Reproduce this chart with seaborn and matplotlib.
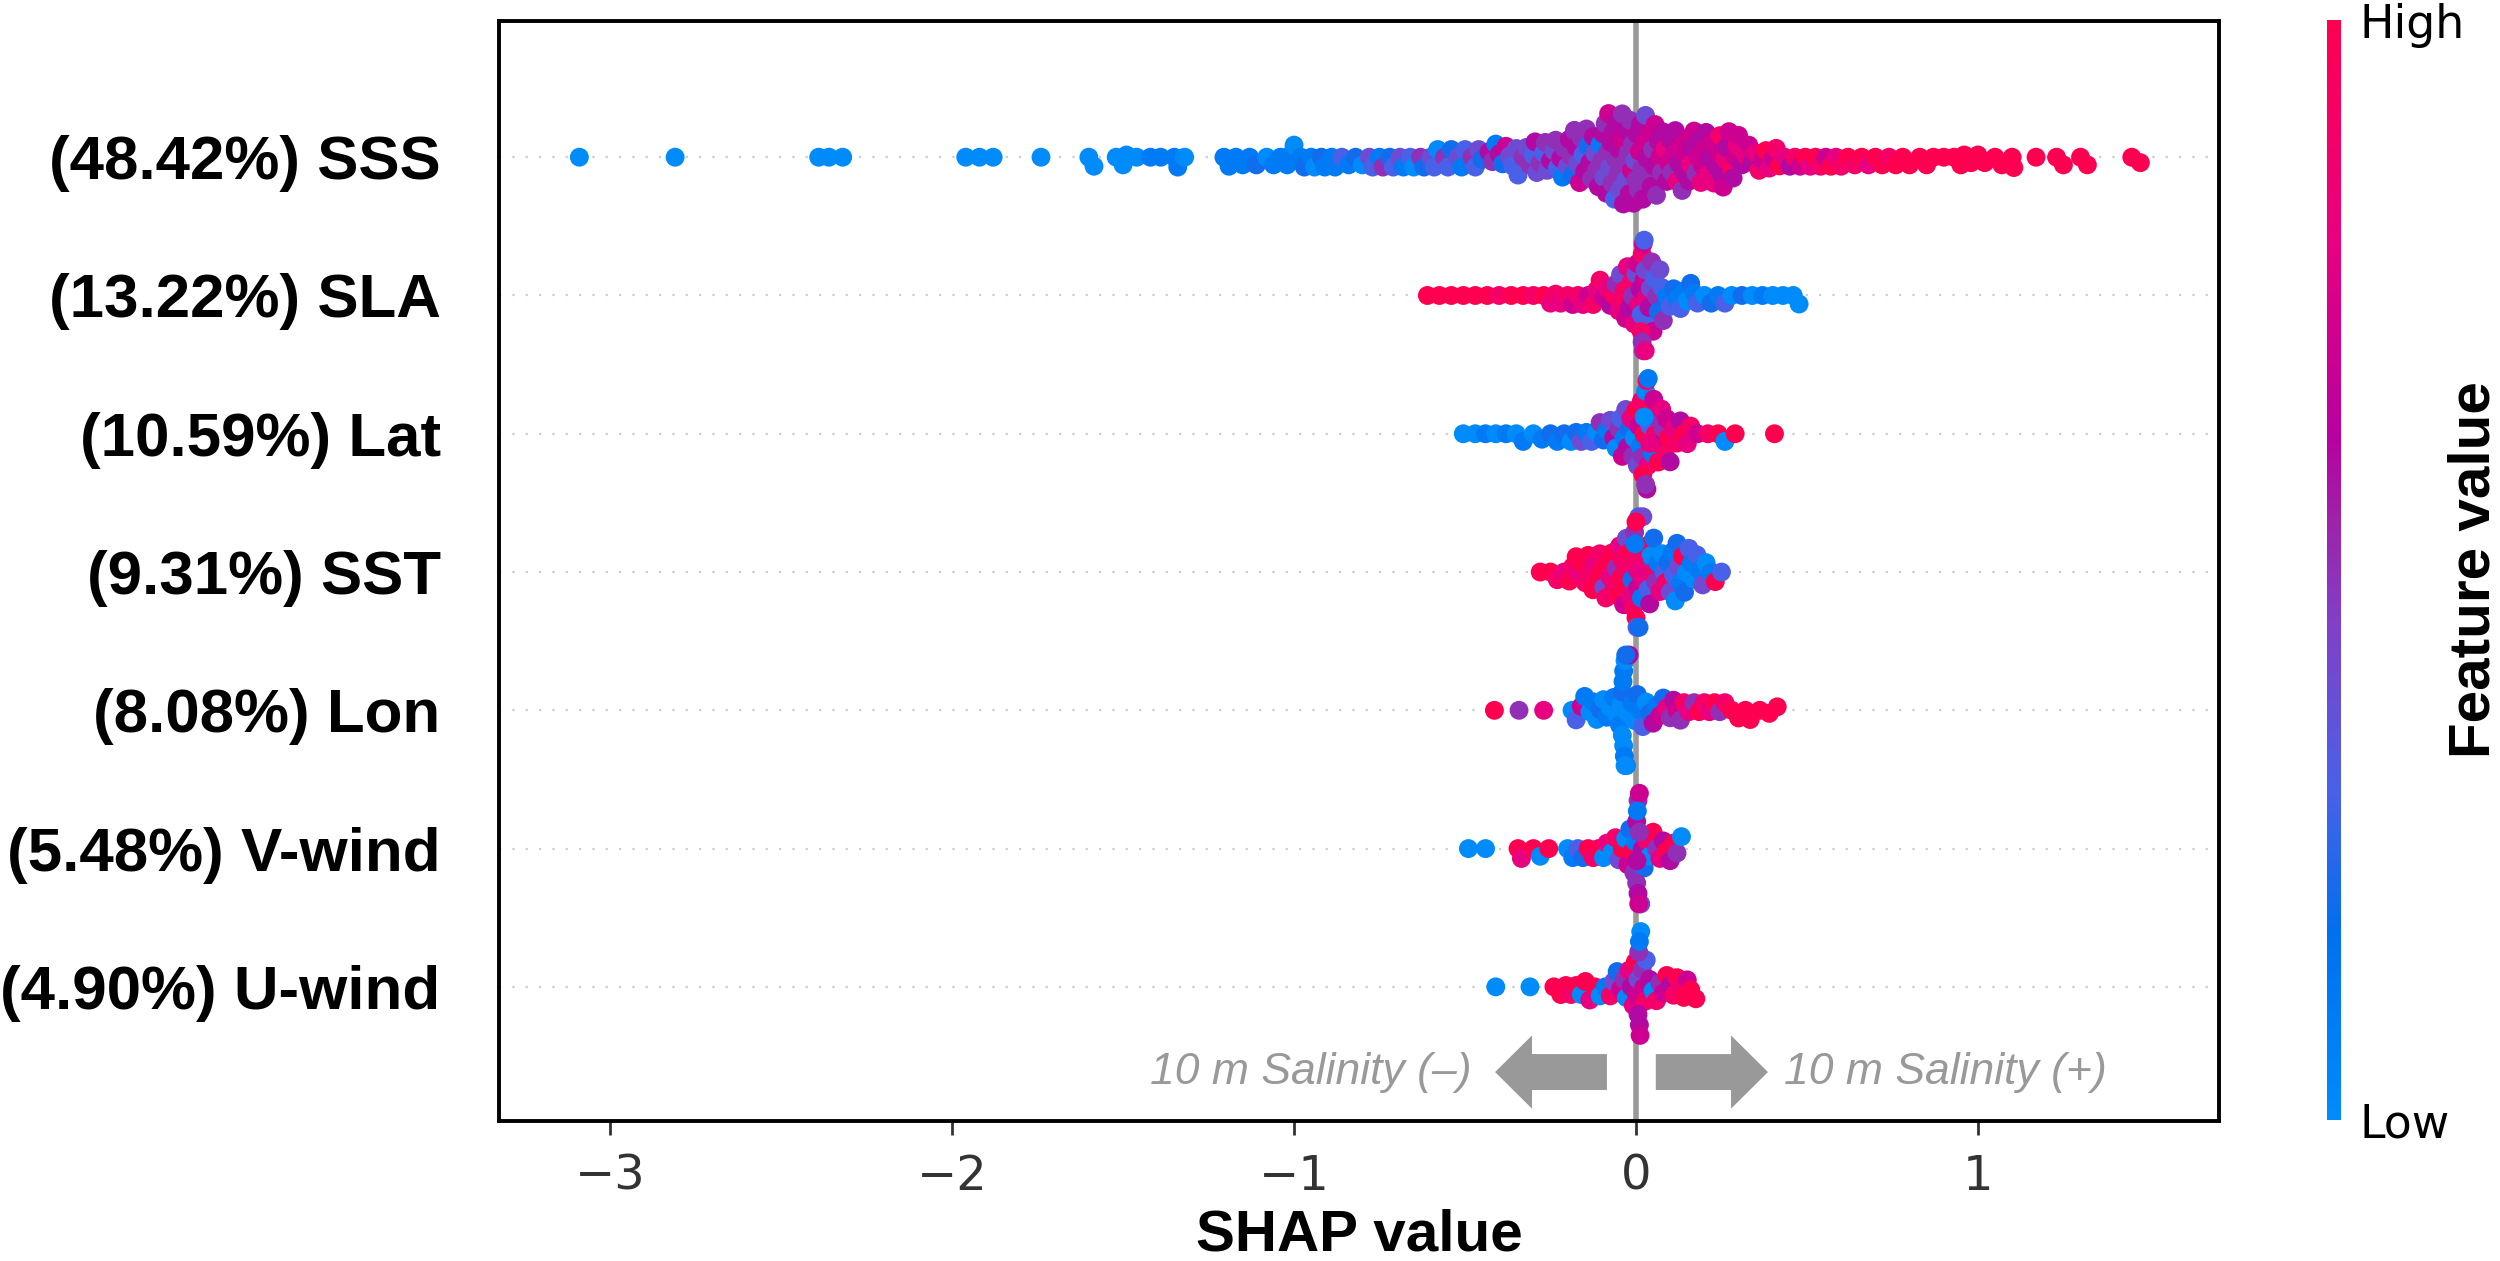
#-------------------------------------------
# SHAP summary beeswarm for the 10 m salinity
# model.
#-------------------------------------------

import pandas as pd
import matplotlib
matplotlib.use("Agg")
import matplotlib.pyplot as plt
import seaborn as sns

from matplotlib.cm import ScalarMappable
from matplotlib.colors import LinearSegmentedColormap, Normalize

#------------------------------DATA--------------------------------------------

features = ["(48.42%) SSS", "(13.22%) SLA", "(10.59%) Lat", "(9.31%) SST",
            "(8.08%) Lon", "(5.48%) V-wind", "(4.90%) U-wind"]

# feature value is on a 0 (low) to 10 (high) scale

sss_shap = [-3.09, -2.81, -2.39, -2.36, -2.32, -1.96, -1.92, -1.88, -1.74, -1.60,
            -1.585, -1.52, -1.50, -1.49, -1.46, -1.42, -1.39, -1.35, -1.34, -1.32,
            -1.205, -1.19, -1.17, -1.15, -1.13, -1.11, -1.08, -1.06, -1.04, -1.02,
            -1.01, -1.00, -0.98, -0.97, -0.95, -0.94, -0.92, -0.91, -0.89, -0.88,
            -0.86, -0.84, -0.82, -0.80, -0.78, -0.77, -0.75, -0.74, -0.72, -0.71,
            -0.69, -0.68, -0.66, -0.65, -0.63, -0.62, -0.60, -0.59, -0.58, -0.56,
            -0.55, -0.54, -0.52, -0.51, -0.50, -0.48, -0.47, -0.46, -0.45, -0.43,
            -0.42, -0.41, -0.40, -0.39, -0.38, -0.37, -0.36, -0.35, -0.345, -0.33,
            -0.32, -0.31, -0.30, -0.295, -0.29, -0.28, -0.27, -0.265, -0.26, -0.25,
            -0.24, -0.235, -0.23, -0.22, -0.215, -0.21, -0.20, -0.195, -0.19, -0.185,
            -0.18, -0.175, -0.17, -0.165, -0.16, -0.155, -0.15, -0.145, -0.14, -0.135,
            -0.13, -0.125, -0.12, -0.115, -0.11, -0.105, -0.10, -0.097, -0.094, -0.09,
            -0.087, -0.083, -0.08, -0.077, -0.073, -0.07, -0.067, -0.063, -0.06, -0.057,
            -0.053, -0.05, -0.047, -0.043, -0.04, -0.037, -0.033, -0.03, -0.027, -0.023,
            -0.02, -0.017, -0.013, -0.01, -0.007, -0.003, 0.0, 0.003, 0.007, 0.01,
            0.013, 0.017, 0.02, 0.024, 0.028, 0.032, 0.036, 0.04, 0.044, 0.048,
            0.052, 0.056, 0.06, 0.065, 0.07, 0.075, 0.08, 0.085, 0.09, 0.095,
            0.10, 0.105, 0.11, 0.115, 0.12, 0.125, 0.13, 0.135, 0.14, 0.145,
            0.15, 0.155, 0.16, 0.165, 0.17, 0.175, 0.18, 0.185, 0.19, 0.195,
            0.20, 0.205, 0.21, 0.216, 0.222, 0.228, 0.234, 0.24, 0.245, 0.25,
            0.255, 0.26, 0.266, 0.272, 0.278, 0.284, 0.29, 0.295, 0.30, 0.31,
            0.32, 0.33, 0.34, 0.35, 0.36, 0.37, 0.38, 0.39, 0.40, 0.41,
            0.42, 0.435, 0.45, 0.465, 0.48, 0.495, 0.51, 0.525, 0.54, 0.555,
            0.57, 0.585, 0.60, 0.62, 0.64, 0.66, 0.68, 0.70, 0.72, 0.74,
            0.76, 0.78, 0.80, 0.83, 0.85, 0.87, 0.90, 0.93, 0.95, 0.96,
            0.98, 1.00, 1.02, 1.05, 1.07, 1.10, 1.105, 1.17, 1.23, 1.25,
            1.30, 1.32, 1.45, 1.475]
sss_value = [0, 0, 0, 0, 0, 0, 0, 0, 0, 0,
             0, 0, 0, 0, 0, 1, 1, 1, 1, 0,
             1, 1, 1, 1, 1, 2, 0, 1, 1, 1,
             1, 0, 1, 2, 1, 0, 2, 1, 1, 1,
             3, 1, 2, 0, 4, 3, 1, 5, 2, 3,
             4, 1, 3, 0, 5, 2, 4, 3, 0, 5,
             3, 2, 4, 1, 3, 5, 3, 4, 2, 6,
             5, 1, 6, 2, 7, 4, 3, 4, 3, 5,
             4, 5, 3, 6, 4, 5, 3, 5, 4, 6,
             4, 5, 3, 6, 1, 5, 4, 6, 5, 2,
             5, 6, 4, 7, 5, 3, 6, 5, 2, 6,
             5, 6, 4, 5, 6, 1, 5, 6, 4, 5,
             6, 5, 7, 4, 6, 5, 6, 3, 5, 6,
             5, 6, 4, 7, 5, 6, 5, 4, 6, 5,
             6, 5, 7, 5, 6, 4, 5, 6, 5, 7,
             6, 5, 6, 7, 4, 6, 5, 7, 6, 5,
             6, 7, 5, 6, 7, 5, 6, 8, 6, 7,
             6, 5, 7, 6, 8, 6, 7, 5, 6, 7,
             7, 6, 8, 6, 7, 5, 7, 6, 8, 7,
             7, 6, 8, 6, 7, 8, 6, 7, 9, 6,
             7, 8, 6, 7, 9, 6, 7, 8, 7, 6,
             8, 7, 6, 8, 9, 7, 10, 8, 7, 9,
             10, 8, 6, 9, 7, 10, 8, 10, 9, 7,
             10, 8, 9, 10, 9, 10, 8, 10, 10, 9,
             10, 10, 10, 10, 10, 10, 10, 10, 10, 10,
             10, 10, 10, 10, 10, 10, 10, 10, 10, 10,
             10, 10, 10, 10]

sla_shap = [-0.61, -0.575, -0.54, -0.505, -0.47, -0.435, -0.40, -0.365, -0.33, -0.30,
            -0.27, -0.25, -0.235, -0.22, -0.20, -0.185, -0.17, -0.155, -0.14, -0.125,
            -0.115, -0.105, -0.095, -0.085, -0.075, -0.065, -0.058, -0.05, -0.045, -0.04,
            -0.035, -0.03, -0.025, -0.02, -0.015, -0.01, -0.005, 0.0, 0.004, 0.008,
            0.012, 0.015, 0.018, 0.021, 0.024, 0.027, 0.03, 0.034, 0.038, 0.042,
            0.046, 0.05, 0.055, 0.06, 0.065, 0.07, 0.075, 0.08, 0.09, 0.10,
            0.11, 0.12, 0.13, 0.14, 0.15, 0.16, 0.17, 0.18, 0.20, 0.22,
            0.24, 0.26, 0.28, 0.31, 0.34, 0.37, 0.40, 0.43, 0.46, 0.477,
            0.015, 0.018, 0.021, 0.024, 0.027]
sla_value = [10, 10, 10, 10, 10, 10, 9, 10, 10, 9,
             10, 8, 9, 8, 9, 7, 9, 8, 7, 9,
             8, 9, 7, 8, 6, 9, 5, 8, 4, 9,
             9, 7, 8, 6, 9, 5, 8, 4, 7, 8,
             6, 3, 9, 5, 7, 4, 8, 3, 6, 4,
             5, 7, 3, 5, 2, 4, 3, 5, 1, 3,
             2, 1, 3, 1, 0, 2, 1, 3, 0, 2,
             1, 3, 0, 2, 0, 1, 0, 0, 0, 0,
             9, 5, 7, 3, 8]

lat_shap = [-0.505, -0.47, -0.44, -0.41, -0.38, -0.35, -0.33, -0.30, -0.275, -0.25,
            -0.23, -0.21, -0.19, -0.175, -0.16, -0.145, -0.13, -0.115, -0.105, -0.095,
            -0.085, -0.075, -0.065, -0.058, -0.05, -0.045, -0.04, -0.035, -0.03, -0.025,
            -0.02, -0.015, -0.01, -0.005, 0.0, 0.004, 0.008, 0.012, 0.016, 0.02,
            0.024, 0.028, 0.032, 0.036, 0.04, 0.044, 0.048, 0.052, 0.056, 0.06,
            0.065, 0.07, 0.075, 0.08, 0.085, 0.09, 0.095, 0.10, 0.11, 0.12,
            0.13, 0.14, 0.15, 0.16, 0.18, 0.21, 0.24, 0.26, 0.29, 0.405,
            0.02, 0.024, 0.028, 0.032, 0.036, 0.04]
lat_value = [0, 0, 1, 0, 1, 0, 1, 0, 1, 2,
             1, 2, 0, 2, 4, 1, 3, 0, 5, 2,
             1, 4, 6, 0, 5, 3, 7, 1, 4, 6,
             2, 8, 5, 0, 10, 4, 7, 1, 9, 5,
             10, 0, 6, 8, 3, 10, 1, 7, 9, 5,
             10, 6, 8, 5, 9, 7, 10, 6, 8, 9,
             6, 10, 8, 9, 7, 9, 10, 0, 10, 10,
             10, 0, 5, 9, 1, 8]

sst_shap = [-0.28, -0.25, -0.23, -0.21, -0.195, -0.185, -0.175, -0.165, -0.155, -0.148,
            -0.14, -0.133, -0.126, -0.12, -0.113, -0.106, -0.10, -0.094, -0.088, -0.082,
            -0.076, -0.07, -0.064, -0.058, -0.052, -0.048, -0.044, -0.04, -0.036, -0.032,
            -0.028, -0.024, -0.02, -0.016, -0.012, -0.008, -0.004, 0.0, 0.004, 0.008,
            0.012, 0.016, 0.02, 0.024, 0.028, 0.032, 0.036, 0.04, 0.044, 0.048,
            0.052, 0.058, 0.064, 0.07, 0.076, 0.082, 0.088, 0.094, 0.10, 0.105,
            0.11, 0.115, 0.12, 0.125, 0.13, 0.136, 0.142, 0.148, 0.155, 0.162,
            0.17, 0.178, 0.186, 0.195, 0.205, 0.22, 0.232, 0.25,
            -0.006, -0.003, 0.0, 0.003, 0.006, 0.009]
sst_value = [10, 10, 9, 8, 10, 9, 10, 8, 10, 9,
             10, 9, 10, 8, 10, 9, 10, 4, 9, 10,
             8, 10, 9, 5, 10, 8, 10, 9, 7, 10,
             4, 9, 10, 8, 2, 9, 5, 10, 7, 3,
             9, 1, 4, 8, 2, 10, 3, 6, 0, 9,
             2, 5, 1, 8, 0, 3, 9, 2, 4, 1,
             3, 0, 2, 4, 1, 10, 2, 0, 3, 1,
             0, 3, 1, 4, 0, 1, 10, 3,
             9, 1, 10, 3, 8, 2]

lon_shap = [-0.414, -0.342, -0.27, -0.187, -0.175, -0.16, -0.15, -0.135, -0.125, -0.115,
            -0.105, -0.095, -0.085, -0.075, -0.065, -0.055, -0.048, -0.044, -0.04, -0.036,
            -0.032, -0.028, -0.024, -0.02, -0.012, -0.004, 0.004, 0.012, 0.02, 0.03,
            0.04, 0.05, 0.06, 0.07, 0.08, 0.09, 0.10, 0.11, 0.12, 0.13,
            0.14, 0.155, 0.17, 0.185, 0.20, 0.215, 0.23, 0.245, 0.26, 0.28,
            0.30, 0.32, 0.334, 0.362, 0.39, 0.413,
            -0.04, -0.038, -0.036, -0.034, -0.032, -0.03]
lon_value = [10, 5, 8, 0, 3, 7, 1, 0, 1, 0,
             2, 0, 1, 0, 1, 0, 1, 0, 2, 1,
             0, 1, 0, 6, 1, 0, 2, 1, 3, 0,
             2, 6, 1, 7, 2, 8, 5, 6, 7, 5,
             9, 8, 5, 10, 9, 8, 10, 5, 9, 10,
             10, 10, 10, 10, 10, 10,
             0, 1, 0, 1, 0, 2]

vwind_shap = [-0.49, -0.44, -0.345, -0.335, -0.30, -0.28, -0.255, -0.20, -0.185, -0.17,
              -0.155, -0.14, -0.125, -0.11, -0.095, -0.085, -0.07, -0.06, -0.05, -0.04,
              -0.03, -0.024, -0.018, -0.012, -0.006, -0.002, 0.002, 0.006, 0.01, 0.014,
              0.018, 0.024, 0.03, 0.04, 0.05, 0.06, 0.07, 0.08, 0.09, 0.10,
              0.11, 0.12, 0.133,
              0.002, 0.004, 0.006, 0.008, 0.01, 0.003]
vwind_value = [0, 0, 10, 8, 10, 0, 10, 0, 1, 3,
               2, 10, 9, 10, 0, 8, 0, 9, 4, 10,
               0, 7, 2, 10, 5, 1, 6, 5, 7, 4,
               6, 2, 9, 0, 10, 5, 8, 6, 10, 6,
               10, 5, 0,
               5, 1, 6, 7, 5, 6]

uwind_shap = [-0.41, -0.31, -0.24, -0.22, -0.205, -0.19, -0.175, -0.16, -0.148, -0.135,
              -0.12, -0.105, -0.09, -0.075, -0.065, -0.055, -0.045, -0.035, -0.028, -0.02,
              -0.014, -0.008, -0.002, 0.002, 0.006, 0.01, 0.014, 0.018, 0.022, 0.026,
              0.03, 0.04, 0.05, 0.06, 0.07, 0.08, 0.09, 0.10, 0.11, 0.12,
              0.13, 0.14, 0.15, 0.16, 0.175,
              0.006, 0.008, 0.01, 0.012]
uwind_value = [0, 0, 10, 10, 10, 9, 10, 0, 10, 8,
               10, 0, 1, 9, 4, 2, 7, 5, 0, 8,
               6, 8, 10, 7, 4, 6, 0, 5, 7, 9,
               3, 6, 0, 9, 5, 7, 10, 6, 9, 10,
               9, 10, 7, 10, 10,
               6, 5, 1, 7]

all_shap = [sss_shap, sla_shap, lat_shap, sst_shap, lon_shap, vwind_shap, uwind_shap]
all_value = [sss_value, sla_value, lat_value, sst_value, lon_value, vwind_value, uwind_value]

frames = []
for name, shap_vals, feat_vals in zip(features, all_shap, all_value):
    frames.append(pd.DataFrame({"feature": name, "shap": shap_vals, "value": feat_vals}))
shap_data = pd.concat(frames, ignore_index=True)

#------------------------------COLOURS-----------------------------------------

red_blue = LinearSegmentedColormap.from_list("red_blue", [
    (0.00, "#008BFB"), (0.17, "#0070F0"), (0.30, "#4A60E8"), (0.45, "#8040C8"),
    (0.55, "#A020A8"), (0.62, "#B800A0"), (0.80, "#E80080"), (1.00, "#FF0051")])

#------------------------------BUILD PLOT--------------------------------------

sns.set_theme(style="white")
plt.rcParams["font.family"] = ["Liberation Sans", "DejaVu Sans"]

fig = plt.figure(figsize=(12.5, 6.305), dpi=200)
ax = fig.add_axes([499 / 2500, 1 - 1121 / 1261, 1720 / 2500, 1100 / 1261])

# The swarm is laid out with small dots so that the big dots overlap afterwards

sns.swarmplot(data=shap_data, x="shap", y="feature", hue="value", order=features,
              palette=red_blue, hue_norm=(0, 10), size=3.6, linewidth=0,
              legend=False, orient="h", warn_thresh=1, ax=ax)

ax.set_xlim(-3.325, 1.705)
ax.set_ylim(6.97, -0.985)

fig.canvas.draw()
for swarm in ax.collections:
    swarm.__dict__.pop("draw", None)
    swarm.set_sizes([6.8 ** 2])

ax.axvline(0, color="#999999", lw=2, zorder=0)
for pos in range(len(features)):
    ax.axhline(pos, color="#cccccc", lw=0.8, dashes=(1, 5), zorder=0)

# Salinity direction arrows

ax.arrow(-0.085, 6.616, -0.327, 0, width=0.26, head_width=0.53, head_length=0.108,
         length_includes_head=True, color="#999999", lw=0, zorder=3)
ax.arrow(0.058, 6.616, 0.328, 0, width=0.26, head_width=0.53, head_length=0.108,
         length_includes_head=True, color="#999999", lw=0, zorder=3)
ax.text(-0.48, 6.62, "10 m Salinity (\u2013)", ha="right", va="center", style="italic",
        fontsize=16, color="#999999")
ax.text(0.432, 6.62, "10 m Salinity (+)", ha="left", va="center", style="italic",
        fontsize=16, color="#999999")

# Axes cosmetics

for spine in ax.spines.values():
    spine.set_color("black")
    spine.set_linewidth(1.4)

ax.tick_params(axis="x", bottom=True, length=5, width=1, color="#333333", pad=6.5,
               labelsize=17.3, labelcolor="#333333")
ax.tick_params(axis="y", left=False, pad=15)
for label in ax.get_xticklabels():
    label.set_fontfamily("DejaVu Sans")
for label in ax.get_yticklabels():
    label.set_fontsize(22.3)
    label.set_fontweight("bold")
    label.set_color("black")

ax.set_xlabel("SHAP value", fontsize=21, fontweight="bold", color="black", labelpad=3)
ax.set_ylabel("")

# Colour bar

cax = fig.add_axes([2327 / 2500, 1 - 1120 / 1261, 14 / 2500, 1100 / 1261])
bar = fig.colorbar(ScalarMappable(Normalize(0, 10), cmap=red_blue), cax=cax, ticks=[0, 10])
bar.outline.set_visible(False)
cax.set_yticklabels(["Low", "High"], fontfamily="DejaVu Sans", fontsize=16.5, color="black")
cax.tick_params(length=0, pad=6.5)
cax.set_ylabel("Feature value", fontsize=21, fontweight="bold", color="black", labelpad=-6)

fig.savefig("out.png", dpi=200)
